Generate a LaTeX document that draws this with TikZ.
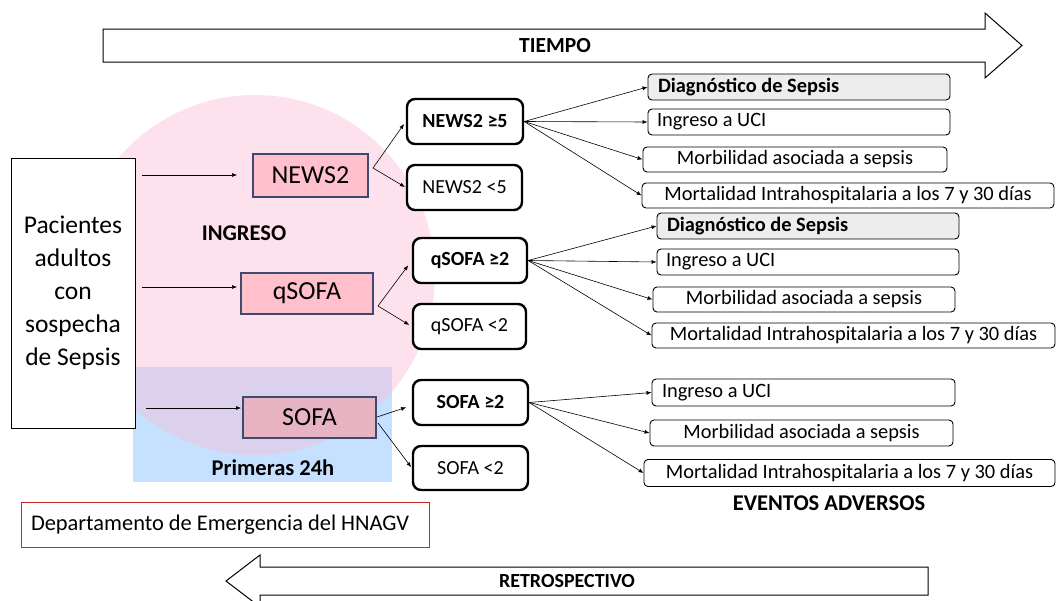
\documentclass[tikz,border=0pt]{standalone}
\usepackage{fontspec}
\setmainfont{Carlito}
\usetikzlibrary{arrows.meta}
\definecolor{pinkfill}{RGB}{255,192,203}
\definecolor{sofafill}{RGB}{232,180,196}
\definecolor{slate}{RGB}{60,75,110}
\definecolor{circfill}{RGB}{250,190,215}
\definecolor{bluefill}{RGB}{197,225,255}
\definecolor{grayfill}{RGB}{237,237,237}
\definecolor{deptred}{RGB}{200,40,40}
\tikzset{
  arr/.style={line width=0.6, -{Latex[length=5,width=4]}},
  pinkbox/.style={draw=slate, line width=1.2, fill=pinkfill, inner sep=0, font=\fontsize{26}{31}\selectfont},
  thickbox/.style={draw=black, line width=2.4, rounded corners=8, fill=white, inner sep=0, minimum height=45, font=\fontsize{20}{24}\selectfont},
  outbox/.style={draw=black, line width=0.9, rounded corners=4, fill=white, inner sep=0, minimum height=26, font=\fontsize{20.4}{24}\selectfont},
  boldlabel/.style={font=\fontsize{22.5}{26}\selectfont\bfseries, inner sep=0},
}
\begin{document}
\begin{tikzpicture}[x=1pt,y=-1pt]
\useasboundingbox (0,0) rectangle (1057,600);

% top arrow TIEMPO
\draw[line width=1, fill=white] (103,29) -- (985,29) -- (985,13) -- (1022,45.5) -- (985,78) -- (985,62) -- (103,62) -- cycle;
\node[boldlabel, font=\fontsize{21.5}{25}\selectfont\bfseries] (tiempo) at (555,45.5) {TIEMPO};

% bottom arrow RETROSPECTIVO
\draw[line width=1, fill=white] (928,567) -- (260,567) -- (260,555) -- (226,581) -- (260,607) -- (260,595) -- (928,595) -- cycle;
\node[boldlabel, font=\fontsize{20}{24}\selectfont\bfseries] (retro) at (567,581) {RETROSPECTIVO};

% background regions
\fill[bluefill] (133,367) rectangle (392,482);
\fill[circfill, opacity=0.45] (255,275) circle[radius=180];

% left box
\node[draw=black, line width=1, fill=white, minimum width=124, minimum height=270, inner sep=0, align=center,
      font=\fontsize{25.5}{33}\selectfont] (pac) at (73,293)
      {Pacientes\\adultos\\con\\sospecha\\de Sepsis};

% scores
\node[pinkbox, minimum width=115, minimum height=43] (news) at (310.5,175.5) {NEWS2};
\node[pinkbox, minimum width=132, minimum height=41] (qsofa) at (307,293.5) {qSOFA};
\node[pinkbox, fill=sofafill, minimum width=133, minimum height=41] (sofa) at (309.5,417.5) {SOFA};

\node[boldlabel] (ingreso) at (244,233) {INGRESO};
\node[boldlabel] (primeras) at (273,468) {Primeras 24h};

% threshold boxes
\node[thickbox, minimum width=116, font=\fontsize{20}{24}\selectfont\bfseries] (n5hi) at (465,121.5) {NEWS2 ≥5};
\node[thickbox, minimum width=115] (n5lo) at (464.5,187.5) {NEWS2 <5};
\node[thickbox, minimum width=114, font=\fontsize{20}{24}\selectfont\bfseries] (q2hi) at (470,260.5) {qSOFA ≥2};
\node[thickbox, minimum width=113] (q2lo) at (469.5,326.5) {qSOFA <2};
\node[thickbox, minimum width=115, font=\fontsize{20}{24}\selectfont\bfseries] (s2hi) at (470.5,402.5) {SOFA ≥2};
\node[thickbox, minimum width=115, minimum height=44] (s2lo) at (470.5,468) {SOFA <2};

% outcome boxes
\node[outbox, fill=grayfill, minimum width=302, font=\fontsize{20.4}{24}\selectfont\bfseries] (d1) at (799,87) {\makebox[282pt][l]{Diagnóstico de Sepsis}};
\node[outbox, minimum width=302] (i1) at (799,122) {\makebox[284pt][l]{Ingreso a UCI}};
\node[outbox, minimum width=304, minimum height=25] (m1) at (795,159.5) {Morbilidad asociada a sepsis};
\node[outbox, minimum width=412, minimum height=25] (t1) at (848,195.5) {Mortalidad Intrahospitalaria a los 7 y 30 días};

\node[outbox, fill=grayfill, minimum width=302, font=\fontsize{20.4}{24}\selectfont\bfseries] (d2) at (808,226) {\makebox[282pt][l]{Diagnóstico de Sepsis}};
\node[outbox, minimum width=302] (i2) at (808,262) {\makebox[284pt][l]{Ingreso a UCI}};
\node[outbox, minimum width=302, minimum height=25] (m2) at (804,299.5) {Morbilidad asociada a sepsis};
\node[outbox, minimum width=403, minimum height=25] (t2) at (853.5,335.5) {Mortalidad Intrahospitalaria a los 7 y 30 días};

\node[outbox, minimum width=303, minimum height=27] (i3) at (803.5,392.5) {\makebox[283pt][l]{Ingreso a UCI}};
\node[outbox, minimum width=303] (m3) at (801.5,433) {Morbilidad asociada a sepsis};
\node[outbox, minimum width=411, minimum height=27] (t3) at (849.5,473) {Mortalidad Intrahospitalaria a los 7 y 30 días};

\node[boldlabel] (eventos) at (829,503) {EVENTOS ADVERSOS};

% department box
\node[draw=deptred, line width=1, fill=white, minimum width=408, minimum height=45, inner sep=0,
      font=\fontsize{22.4}{26}\selectfont] (dept) at (225,524.5) {\makebox[388pt][l]{Departamento de Emergencia del HNAGV}};

% connectors from patients
\coordinate (a1s) at (142,175); \coordinate (a1e) at (237,175);
\coordinate (a2s) at (142,287); \coordinate (a2e) at (237,287);
\coordinate (a3s) at (146,408); \coordinate (a3e) at (241,408);
\draw[arr] (a1s) -- (a1e);
\draw[arr] (a2s) -- (a2e);
\draw[arr] (a3s) -- (a3e);

% split connectors
\coordinate (e1) at (373,168);
\draw[arr, shorten >=3] (e1) -- (n5hi.west);
\draw[arr, shorten >=1] (e1) -- (n5lo.west);
\coordinate (e2) at (378,306);
\draw[arr, shorten >=6] (e2) -- (q2hi.west);
\draw[arr, shorten >=3] (e2) -- (q2lo.west);
\coordinate (e3a) at (377,417);
\coordinate (e3b) at (378,423);
\draw[arr, shorten >=6] (e3a) -- ([yshift=-3]s2hi.west);
\draw[arr, shorten >=1] (e3b) -- (s2lo.west);

% fans
\foreach \t in {d1,i1,m1,t1} \draw[arr] (n5hi.east) -- (\t.west);
\foreach \t in {d2,i2,m2,t2} \draw[arr] (q2hi.east) -- (\t.west);
\foreach \t in {i3,m3,t3} \draw[arr] (s2hi.east) -- (\t.west);
\end{tikzpicture}
\end{document}
